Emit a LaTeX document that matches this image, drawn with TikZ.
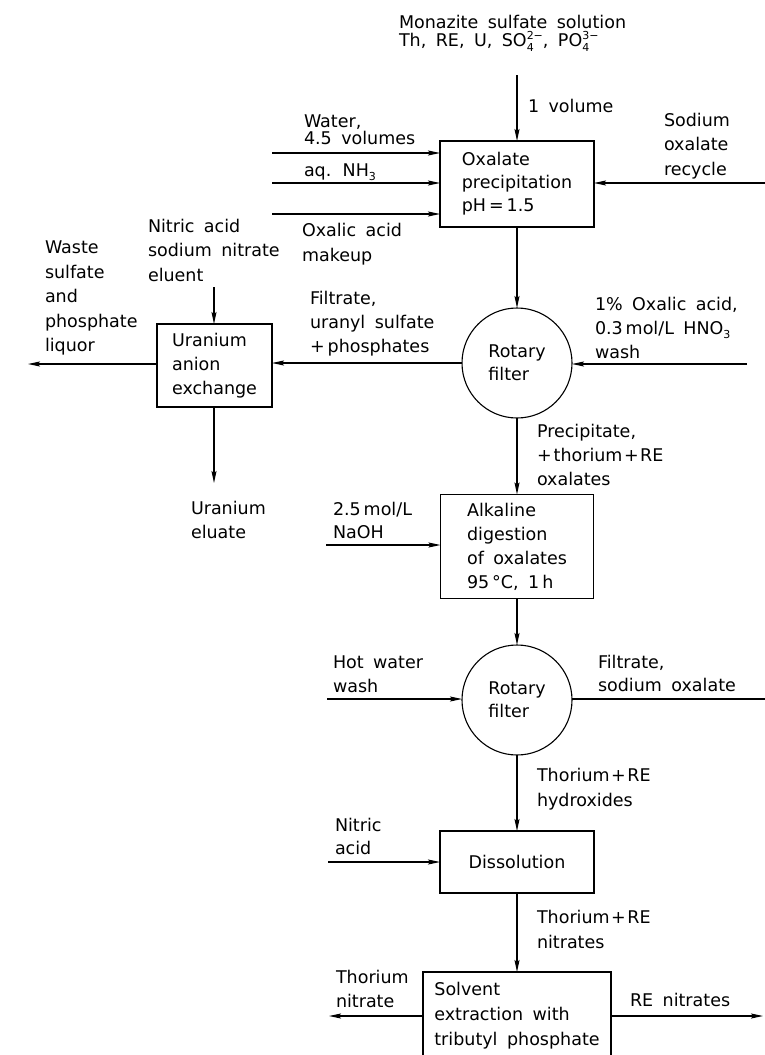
\documentclass[tikz,border=0pt]{standalone}
\usepackage{fontspec}
\setmainfont{DejaVu Sans}[WordSpace=1.7]
\usetikzlibrary{arrows.meta}
\newcommand\ionsub[2]{\makebox[0pt][l]{\raisebox{-0.45ex}{\fontsize{11}{11}\selectfont#1}}\raisebox{0.75ex}{\fontsize{11}{11}\selectfont#2}}
\newcommand\lowsub[1]{\raisebox{-0.45ex}{\fontsize{11}{11}\selectfont#1}}
\newcommand\tplus{\kern1.5pt+\kern1.5pt}
\begin{document}
\begin{tikzpicture}[x=1pt,y=-1pt,
  every node/.style={inner sep=0pt, outer sep=0pt},
  lbl/.style={anchor=north west, align=left, font=\fontsize{17.5}{#1}\selectfont},
  lbl/.default=24,
  box/.style={draw, line width=1.1pt, rectangle, align=left, font=\fontsize{17.5}{#1}\selectfont},
  box/.default=24,
  filt/.style={draw, line width=1.1pt, circle, minimum size=110pt, align=left, font=\fontsize{17.5}{23}\selectfont},
  arr/.style={line width=1.1pt, -{Stealth[length=12pt,width=5pt,inset=2pt]}},
  ln/.style={line width=1.1pt}]
\useasboundingbox (0,0) rectangle (765,1055);

% process units
\node[box=23, minimum width=154pt, minimum height=86pt] (b1) at (517,184) {Oxalate\\precipitation\\pH\,=\,1.5};
\node[filt] (f1) at (517,363) {Rotary\\filter};
\node[box=24, minimum width=115pt, minimum height=83pt] (ura) at (214.5,365.5) {Uranium\\anion\\exchange};
\node[box=24, minimum width=153pt, minimum height=104pt] (alk) at (517,546.5) {Alkaline\\digestion\\of oxalates\\95\,°C, 1\,h};
\node[filt] (f2) at (517,700) {Rotary\\filter};
\node[box=24, minimum width=154pt, minimum height=62pt] (dis) at (517,862) {Dissolution};
\node[box=25, minimum width=188pt, minimum height=88pt] (sol) at (517,1016) {Solvent\\extraction with\\tributyl phosphate};

% free ends
\coordinate (topin) at (517,75);
\coordinate (win) at (272,153);
\coordinate (nin) at (272,183);
\coordinate (oin) at (272,214);
\coordinate (sin) at (765,183);
\coordinate (washin) at (747,364);
\coordinate (wasteout) at (28,364);
\coordinate (nitin) at (214,287);
\coordinate (eluout) at (214,483);
\coordinate (naohin) at (326,545);
\coordinate (hotin) at (327,699);
\coordinate (filtout) at (765,699);
\coordinate (nit2in) at (328,862);
\coordinate (thout) at (329,1016);
\coordinate (reout) at (763,1016);

% connectors
\draw[arr] (topin) -- (b1.north);
\draw[arr] (win) -- (win -| b1.west);
\draw[arr] (nin) -- (nin -| b1.west);
\draw[arr] (oin) -- (oin -| b1.west);
\draw[arr] (sin) -- (sin -| b1.east);
\draw[arr] (b1.south) -- (f1.north);
\draw[arr] (washin) -- (washin -| f1.east);
\draw[arr] (f1.west) -- (f1.west -| ura.east);
\draw[arr] (ura.west |- wasteout) -- (wasteout);
\draw[arr] (nitin) -- (nitin |- ura.north);
\draw[arr] (eluout |- ura.south) -- (eluout);
\draw[arr] (f1.south) -- (alk.north);
\draw[arr] (naohin) -- (naohin -| alk.west);
\draw[arr] (alk.south) -- (f2.north);
\draw[arr] (hotin) -- (hotin -| f2.west);
\draw[ln] (f2.east |- filtout) -- (filtout);
\draw[arr] (f2.south) -- (dis.north);
\draw[arr] (nit2in) -- (nit2in -| dis.west);
\draw[arr] (dis.south) -- (sol.north);
\draw[arr] (sol.west |- thout) -- (thout);
\draw[arr] (sol.east |- reout) -- (reout);

% labels
\node[lbl=18] (lmona) at (399,15.6) {Monazite sulfate solution\\Th, RE, U, SO\ionsub{4}{2−}, PO\ionsub{4}{3−}};
\node[lbl] (lvol) at (528,99.1) {1 volume};
\node[lbl=17.5] (lwater) at (304,114.6) {Water,\\4.5 volumes};
\node[lbl] (lnh3) at (304,163.6) {aq. NH\lowsub{3}};
\node[lbl=25] (loxal) at (302,223.1) {Oxalic acid\\makeup};
\node[lbl=24.5] (lsod) at (664,113.1) {Sodium\\oxalate\\recycle};
\node[lbl=24.5] (lnit) at (148,219.1) {Nitric acid\\sodium nitrate\\eluent};
\node[lbl=24.5] (lwaste) at (45,241.1) {Waste\\sulfate\\and\\phosphate\\liquor};
\node[lbl=24] (lfil1) at (310,291.1) {Filtrate,\\uranyl sulfate\\+\kern3pt phosphates};
\node[lbl=24] (lwash) at (595,297.1) {1\% Oxalic acid,\\0.3\,mol/L HNO\lowsub{3}\\wash};
\node[lbl=24] (lelu) at (191,501.1) {Uranium\\eluate};
\node[lbl=24] (lprec) at (537,424.1) {Precipitate,\\+\kern2pt thorium\tplus{}RE\\oxalates};
\node[lbl=23] (lnaoh) at (333,502.1) {2.5\,mol/L\\NaOH};
\node[lbl=24] (lhot) at (333,656.1) {Hot water\\wash};
\node[lbl=23] (lfil2) at (598,655.1) {Filtrate,\\sodium oxalate};
\node[lbl=25] (lhyd) at (537,768.1) {Thorium\tplus{}RE\\hydroxides};
\node[lbl=23] (lnit2) at (335,818.1) {Nitric\\acid};
\node[lbl=25] (lnitr) at (537,910.1) {Thorium\tplus{}RE\\nitrates};
\node[lbl=24] (lthn) at (336,970.1) {Thorium\\nitrate};
\node[lbl] (lren) at (630,993.1) {RE nitrates};
\end{tikzpicture}
\end{document}
